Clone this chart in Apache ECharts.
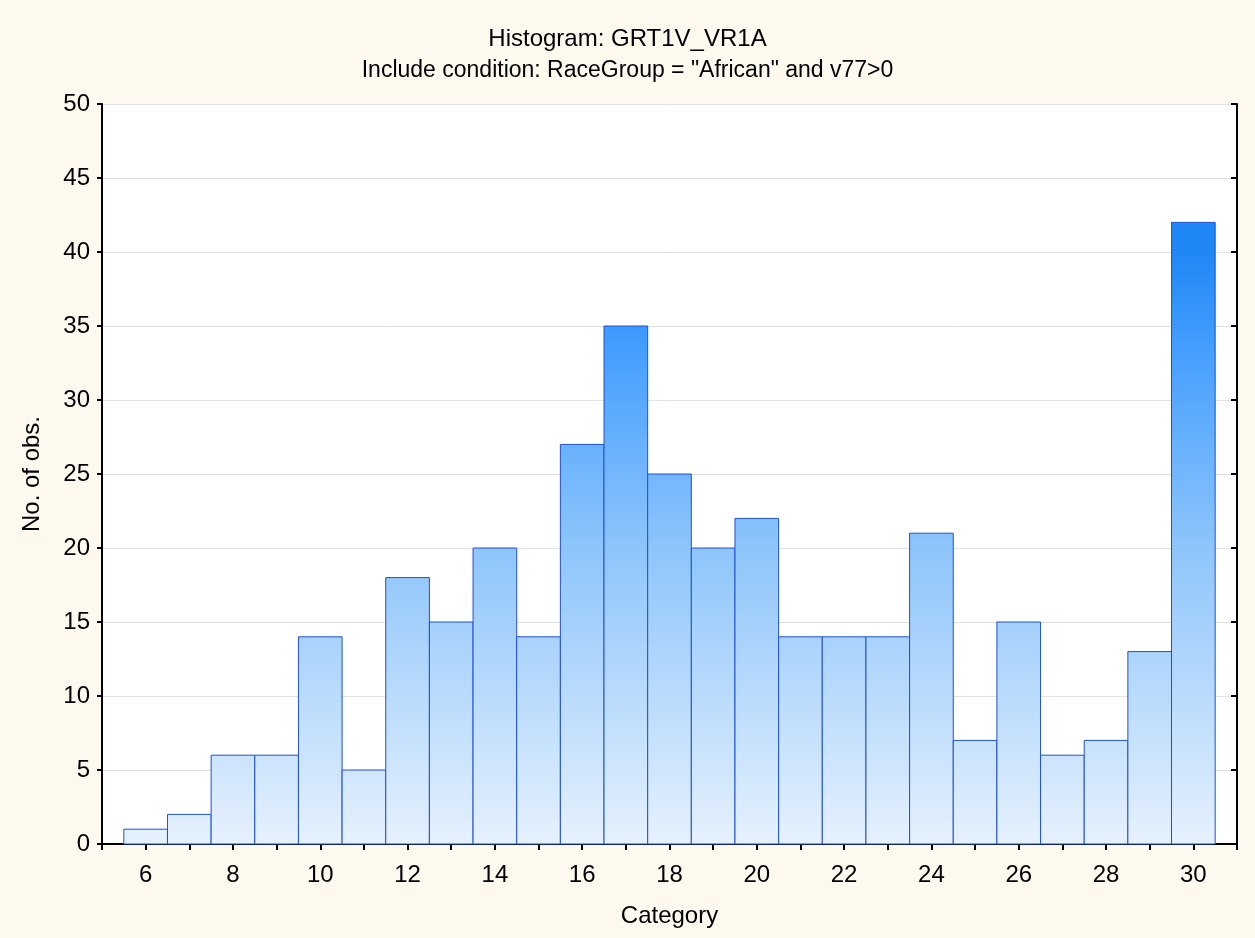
<!DOCTYPE html>
<html>
<head>
<meta charset="utf-8">
<script src="https://cdn.jsdelivr.net/npm/echarts@6/dist/echarts.min.js"></script>
<style>
html,body{margin:0;padding:0;background:#fdf9ef;}
#chart{width:1255px;height:938px;}
</style>
</head>
<body>
<div id="chart"></div>
<script>
const categories = [6,7,8,9,10,11,12,13,14,15,16,17,18,19,20,21,22,23,24,25,26,27,28,29,30];
const counts = [1,2,6,6,14,5,18,15,20,14,27,35,25,20,22,14,14,14,21,7,15,6,7,13,42];
const titleText = 'Histogram: GRT1V_VR1A';
const subtitleText = 'Include condition: RaceGroup = "African" and v77>0';
const xName = 'Category';
const yName = 'No. of obs.';

const FONT = '"Liberation Sans", Arial, sans-serif';
const chart = echarts.init(document.getElementById('chart'), null, {renderer: 'canvas'});
const data = categories.map((c, i) => [c, counts[i]]);

const fill = new echarts.graphic.LinearGradient(0, 252, 0, 844, [
  {offset: 0, color: '#1f87f5'},
  {offset: 0.17, color: '#469ffe'},
  {offset: 0.5, color: '#8ec5fb'},
  {offset: 1, color: '#e6f1fd'}
], true);

const axisLineStyle = {color: '#000', width: 2};
chart.setOption({
  backgroundColor: '#fdf9ef',
  animation: false,
  title: {
    text: '{a|' + titleText + '}\n{b|' + subtitleText + '}',
    left: 'center', top: 19,
    textStyle: {
      fontFamily: FONT, fontSize: 23, fontWeight: 'normal', color: '#000', lineHeight: 31,
      rich: {
        a: {fontFamily: FONT, fontSize: 24, color: '#000', lineHeight: 31},
        b: {fontFamily: FONT, fontSize: 23, color: '#000', lineHeight: 31}
      }
    }
  },
  grid: {left: 102, right: 18, top: 104, bottom: 94, backgroundColor: '#fff', show: true, borderWidth: 0},
  xAxis: [{
    type: 'value', min: 5, max: 31, interval: 1, position: 'bottom',
    name: xName, nameLocation: 'middle', nameGap: 60,
    nameTextStyle: {fontFamily: FONT, fontSize: 24, color: '#000'},
    axisLine: {lineStyle: axisLineStyle},
    axisTick: {inside: true, length: 6, lineStyle: {color: '#000', width: 2}},
    axisLabel: {fontFamily: FONT, fontSize: 24, color: '#000', margin: 19,
      formatter: v => (v % 2 === 0 && v >= 6 && v <= 30) ? String(v) : ''},
    splitLine: {show: false}
  }, {
    type: 'value', min: 5, max: 31, interval: 1, position: 'top',
    axisLine: {lineStyle: axisLineStyle},
    axisTick: {inside: true, length: 6, lineStyle: {color: '#000', width: 2}},
    axisLabel: {show: false}, splitLine: {show: false}
  }],
  yAxis: [{
    type: 'value', min: 0, max: 50, interval: 5, position: 'left',
    name: yName, nameLocation: 'middle', nameGap: 58,
    nameTextStyle: {fontFamily: FONT, fontSize: 24, color: '#000'},
    axisLine: {show: true, lineStyle: axisLineStyle},
    axisTick: {show: true, inside: false, length: 5, lineStyle: {color: '#000', width: 2}},
    axisLabel: {fontFamily: FONT, fontSize: 24, color: '#000', margin: 12},
    splitLine: {show: true, lineStyle: {color: '#e2e2e2', width: 1}}
  }, {
    type: 'value', min: 0, max: 50, interval: 5, position: 'right',
    axisLine: {show: true, lineStyle: axisLineStyle},
    axisTick: {show: true, inside: true, length: 6, lineStyle: {color: '#000', width: 2}},
    axisLabel: {show: false}, splitLine: {show: false}
  }],
  series: [{
    type: 'custom',
    xAxisIndex: 0, yAxisIndex: 0,
    data: data,
    renderItem: function (params, api) {
      const x = api.value(0), y = api.value(1);
      const p1 = api.coord([x - 0.5, y]);
      const p2 = api.coord([x + 0.5, 0]);
      return {
        type: 'rect',
        shape: {x: p1[0], y: p1[1], width: p2[0] - p1[0], height: p2[1] - p1[1]},
        style: {fill: fill, stroke: '#1f50d6', lineWidth: 1}
      };
    },
    z: 3
  }]
});
</script>
</body>
</html>
